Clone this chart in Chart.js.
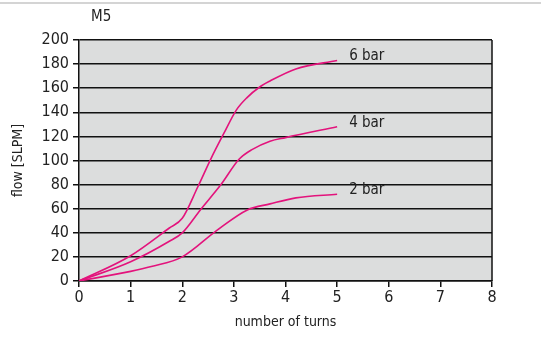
<!DOCTYPE html>
<html>
<head>
<meta charset="utf-8">
<script src="https://cdn.jsdelivr.net/npm/chart.js@4/dist/chart.umd.min.js"></script>
<style>
  html, body { margin: 0; padding: 0; background: #fff; }
  #wrap { width: 541px; height: 358px; }
</style>
</head>
<body>
<div id="wrap"><canvas id="chart"></canvas></div>
<script>
const FONT = "'DejaVu Sans Condensed', 'Liberation Sans Narrow', sans-serif";
const LINE_COLOR = '#e3137c';

// values
const turns6 = [0, 1, 1.75, 2, 2.3, 2.55, 2.8, 3.05, 3.25, 3.5, 3.7, 4.2, 5];
const flow6  = [0, 21, 44, 52, 78, 101, 122, 142, 152, 161, 166, 176, 183];
const turns4 = [0, 1, 1.75, 2, 2.35, 2.75, 3.1, 3.35, 3.7, 4, 5];
const flow4  = [0, 16, 33, 40, 59, 80, 101, 109, 116, 119, 128];
const turns2 = [0, 1, 1.4, 2, 2.67, 3.26, 3.7, 4.2, 5];
const flow2  = [0, 8, 12, 20, 42, 59, 64, 69, 72];
const seriesLabels = ['6 bar', '4 bar', '2 bar'];
const xTicks = [0, 1, 2, 3, 4, 5, 6, 7, 8];
const yTicks = [0, 20, 40, 60, 80, 100, 120, 140, 160, 180, 200];

const toPoints = (xs, ys) => xs.map((x, i) => ({ x: x, y: ys[i] }));

const decor = {
    id: 'decor',
    beforeDraw(chart) {
        const { ctx, chartArea: a } = chart;
        ctx.save();
        ctx.fillStyle = '#dcdddd';
        ctx.fillRect(a.left, a.top, a.right - a.left, a.bottom - a.top);
        // thin grey rule along the top of the image
        ctx.fillStyle = '#d4d4d4';
        ctx.fillRect(0, 2, chart.width, 2);
        ctx.restore();
    },
    afterDraw(chart) {
        const { ctx, chartArea: a } = chart;
        ctx.save();
        ctx.strokeStyle = '#111';
        ctx.lineWidth = 1.5;
        ctx.beginPath();
        ctx.moveTo(a.right, a.top);
        ctx.lineTo(a.right, a.bottom);
        ctx.stroke();

        ctx.fillStyle = '#222';
        ctx.font = '15px ' + FONT;
        ctx.textBaseline = 'middle';
        ctx.fillText('M5', 91, 17);

        // series labels next to the last point of each line
        chart.data.datasets.forEach((ds, i) => {
            const meta = chart.getDatasetMeta(i);
            const last = meta.data[meta.data.length - 1];
            ctx.fillText(seriesLabels[i], last.x + 12, last.y - 4);
        });
        ctx.restore();
    }
};

new Chart(document.getElementById('chart'), {
    type: 'line',
    data: {
        datasets: [
            { label: seriesLabels[0], data: toPoints(turns6, flow6) },
            { label: seriesLabels[1], data: toPoints(turns4, flow4) },
            { label: seriesLabels[2], data: toPoints(turns2, flow2) }
        ].map(ds => Object.assign(ds, {
            borderColor: LINE_COLOR,
            borderWidth: 1.6,
            pointRadius: 0,
            fill: false,
            cubicInterpolationMode: 'monotone'
        }))
    },
    options: {
        responsive: true,
        maintainAspectRatio: false,
        animation: false,
        layout: { padding: { top: 40, right: 49, left: 6, bottom: 27 } },
        plugins: {
            legend: { display: false },
            tooltip: { enabled: false }
        },
        scales: {
            x: {
                type: 'linear',
                min: 0,
                max: 8,
                afterFit: s => { s.height = 50; },
                afterBuildTicks: s => { s.ticks = xTicks.map(v => ({ value: v })); },
                grid: { drawOnChartArea: false, color: '#111', lineWidth: 1.5, tickLength: 6 },
                border: { color: '#111', width: 1.5 },
                ticks: { color: '#222', font: { family: FONT, size: 16 }, padding: 1 },
                title: { display: true, text: 'number of turns', color: '#222', font: { family: FONT, size: 14 }, padding: { top: 0, bottom: 0 } }
            },
            y: {
                min: 0,
                max: 200,
                afterFit: s => { s.width = 73; },
                afterBuildTicks: s => { s.ticks = yTicks.map(v => ({ value: v })); },
                grid: { color: '#111', lineWidth: 1.5, tickLength: 6 },
                border: { color: '#111', width: 1.5 },
                ticks: { color: '#222', font: { family: FONT, size: 16 }, padding: 4 },
                title: { display: true, text: 'flow [SLPM]', color: '#222', font: { family: FONT, size: 14 }, padding: { bottom: 4 } }
            }
        }
    },
    plugins: [decor]
});
</script>
</body>
</html>
